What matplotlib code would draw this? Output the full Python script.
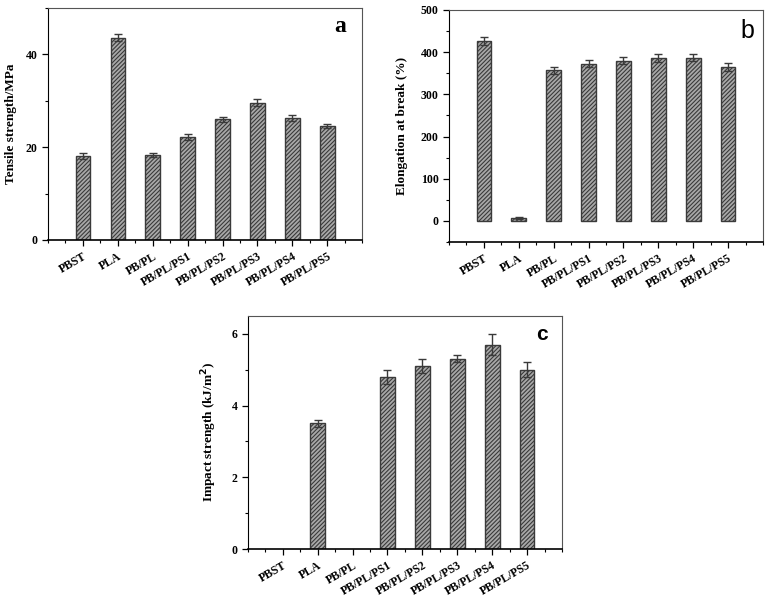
import matplotlib
matplotlib.use("Agg")
import matplotlib.pyplot as plt
from matplotlib.ticker import MultipleLocator
import numpy as np

plt.rcParams['font.family'] = ['Liberation Serif', 'DejaVu Serif']
plt.rcParams['font.weight'] = 'bold'
plt.rcParams['hatch.linewidth'] = 0.8
plt.rcParams['hatch.color'] = '#333333'

samples = ['PBST', 'PLA', 'PB/PL', 'PB/PL/PS1', 'PB/PL/PS2',
           'PB/PL/PS3', 'PB/PL/PS4', 'PB/PL/PS5']

# tensile strength (MPa)
tensile = [18.1, 43.6, 18.3, 22.2, 26.0, 29.6, 26.3, 24.5]
tensile_err = [0.6, 0.8, 0.5, 0.6, 0.5, 0.7, 0.6, 0.4]

# elongation at break (%)
elong = [426, 7, 357, 373, 380, 386, 387, 365]
elong_err = [10, 2, 8, 9, 9, 10, 8, 9]

# impact strength (kJ/m2), no data for PBST and PB/PL
impact = [np.nan, 3.5, np.nan, 4.8, 5.1, 5.3, 5.7, 5.0]
impact_err = [0, 0.1, 0, 0.2, 0.2, 0.1, 0.3, 0.2]

fig = plt.figure(figsize=(7.72, 5.98), dpi=100)
ax_a = fig.add_axes([0.0622, 0.5987, 0.407, 0.388])
ax_b = fig.add_axes([0.5816, 0.5953, 0.4067, 0.388])
ax_c = fig.add_axes([0.3210, 0.0819, 0.407, 0.390])

x = np.arange(1, len(samples) + 1)


def draw(ax, vals, errs, ylim, major, ylabel, pad):
    ax.bar(x, vals, width=0.42, color='#a8a8a8', edgecolor='#3a3a3a',
           linewidth=1.0, hatch='////////', zorder=2)
    ax.errorbar(x, vals, yerr=errs, fmt='none', ecolor='#3a3a3a',
                elinewidth=1.0, capsize=3, capthick=1.0, zorder=3)
    ax.set_xlim(0, 9)
    ax.set_ylim(*ylim)
    ax.set_xticks(x)
    ax.set_xticklabels(samples, rotation=30, ha='right', fontsize=8.5,
                       fontweight='bold', rotation_mode='anchor')
    ax.xaxis.set_minor_locator(MultipleLocator(0.5))
    ax.yaxis.set_major_locator(MultipleLocator(major))
    ax.yaxis.set_minor_locator(MultipleLocator(major / 2))
    ax.tick_params(which='both', direction='out', top=False, right=False,
                   labelsize=8.5)
    ax.tick_params(which='major', length=4, width=0.9)
    ax.tick_params(which='minor', length=2.5, width=0.8)
    for lab in ax.get_yticklabels():
        lab.set_fontweight('bold')
    for s in ax.spines.values():
        s.set_color('#555555')
    ax.spines['bottom'].set_color('black')
    ax.spines['left'].set_color('black')
    ax.spines['bottom'].set_linewidth(1.2)
    ax.set_ylabel(ylabel, fontsize=9.5, fontweight='bold', labelpad=pad)


draw(ax_a, tensile, tensile_err, (0, 50), 20, 'Tensile strength/MPa', 6)
draw(ax_b, elong, elong_err, (-50, 500), 100, 'Elongation at break (%)', 9)
draw(ax_c, impact, impact_err, (0, 6.5), 2, 'Impact strength (kJ/m$^\\mathbf{2}$)', 9)

ax_a.text(0.93, 0.92, 'a', transform=ax_a.transAxes, fontsize=17,
          fontweight='bold', ha='center', va='center')
ax_b.text(0.95, 0.91, 'b', transform=ax_b.transAxes, fontsize=18,
          fontweight='normal', family='Liberation Sans', ha='center', va='center')
ax_c.text(0.935, 0.92, 'c', transform=ax_c.transAxes, fontsize=15,
          fontweight='bold', family='Liberation Sans', ha='center', va='center')

fig.savefig('out.png', dpi=100)
